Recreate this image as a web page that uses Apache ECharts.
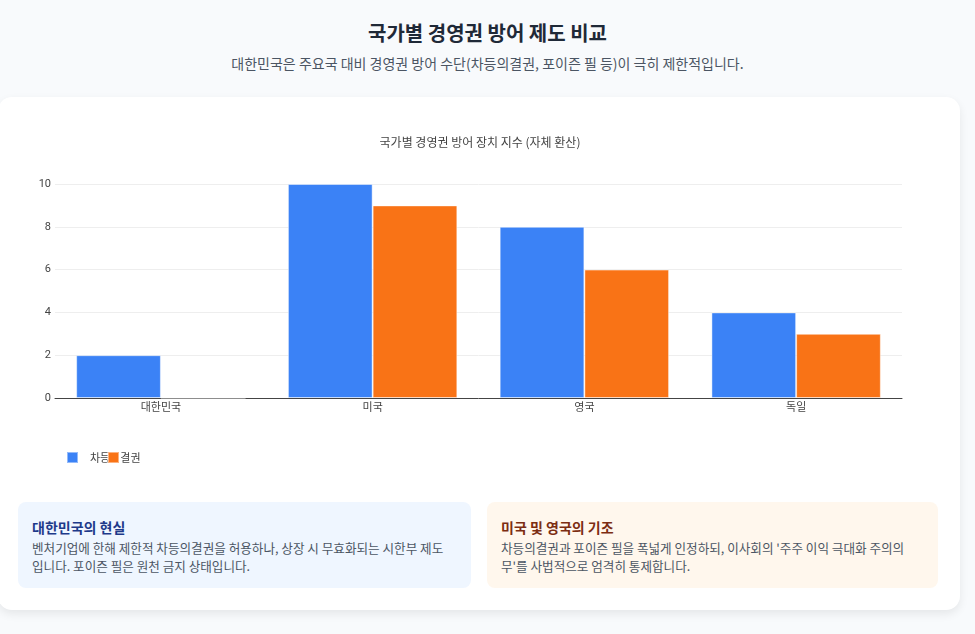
<!DOCTYPE html>
<html><head><meta charset="utf-8">
<script src="https://cdn.jsdelivr.net/npm/echarts@6/dist/echarts.min.js"></script>
<style>
html,body{margin:0;padding:0;background:#f8fafc;font-family:"Noto Sans CJK KR","Noto Sans",sans-serif;}
#wrap{position:relative;width:975px;height:634px;overflow:hidden;}
h1{position:absolute;left:0;width:975px;top:16px;margin:0;text-align:center;font-size:20px;font-weight:700;color:#1f2937;line-height:34px;}
.sub{position:absolute;left:0;width:975px;top:52px;margin:0;text-align:center;font-size:14px;color:#4b5563;line-height:22px;}
#card{position:absolute;left:-2px;top:97px;width:962px;height:513px;background:#fff;border-radius:14px;box-shadow:0 4px 10px rgba(0,0,0,0.08);}
#chart{position:absolute;left:2px;top:0;width:960px;height:395px;}
.box{position:absolute;top:405px;height:86px;border-radius:8px;box-sizing:border-box;padding:13px 14px;}
.box h3{margin:0 0 0 0;font-size:14px;font-weight:700;line-height:24px;}
.box p{margin:0;font-size:12.6px;line-height:18px;color:#4b5563;}
#b1{left:20px;width:453px;background:#eff6ff;padding-right:22px;}
#b1 h3{color:#1e3a8a;}
#b2{left:489px;width:451px;background:#fff7ed;}
#b2 h3{color:#7c2d12;}
</style></head>
<body><div id="wrap">
<h1>국가별 경영권 방어 제도 비교</h1>
<p class="sub">대한민국은 주요국 대비 경영권 방어 수단(차등의결권, 포이즌 필 등)이 극히 제한적입니다.</p>
<div id="card">
<div id="chart"></div>
<div class="box" id="b1"><h3>대한민국의 현실</h3><p>벤처기업에 한해 제한적 차등의결권을 허용하나, 상장 시 무효화되는 시한부 제도입니다. 포이즌 필은 원천 금지 상태입니다.</p></div>
<div class="box" id="b2"><h3>미국 및 영국의 기조</h3><p>차등의결권과 포이즌 필을 폭넓게 인정하되, 이사회의 '주주 이익 극대화 주의의무'를 사법적으로 엄격히 통제합니다.</p></div>
</div>
</div>
<script>
const chartTitle = '국가별 경영권 방어 장치 지수 (자체 환산)';
const categories = ['대한민국', '미국', '영국', '독일'];
const seriesNames = ['차등의결권', '포이즌 필'];
const dualClassValues = [2, 10, 8, 4];
const poisonPillValues = [0, 9, 6, 3];

const font = '"Noto Sans CJK KR","Noto Sans",sans-serif';
const chart = echarts.init(document.getElementById('chart'));
chart.setOption({
  animation: false,
  textStyle: {fontFamily: font},
  title: {text: chartTitle, left: 'center', top: 34,
    textStyle: {fontSize: 12, fontWeight: 'normal', color: '#444', fontFamily: font}},
  legend: [
    {data: [seriesNames[0]], left: 61, top: 349, itemWidth: 11, itemHeight: 11, icon: 'rect',
     textStyle: {fontSize: 11, color: '#444', fontFamily: font, padding: [0,0,0,7]}, z: 1},
    {data: [seriesNames[1]], left: 102, top: 349, itemWidth: 11, itemHeight: 11, icon: 'rect',
     textStyle: {fontSize: 11, color: '#444', fontFamily: font, width: 1, overflow: 'truncate', ellipsis: ''}, z: 5}
  ],
  grid: {left: 55, right: 58, top: 87, height: 214},
  xAxis: {type: 'category', data: categories,
    axisLine: {lineStyle: {color: '#444', width: 1}}, axisTick: {show: false},
    axisLabel: {fontSize: 11, color: '#444', margin: 3, fontFamily: font}},
  yAxis: {type: 'value', min: 0, max: 10, interval: 2,
    splitLine: {lineStyle: {color: '#eeeeee'}}, axisLine: {show: false}, axisTick: {show: false},
    axisLabel: {fontSize: 11, color: '#444', margin: 4, fontFamily: 'Roboto, sans-serif'}},
  series: [
    {name: seriesNames[0], type: 'bar', data: dualClassValues, barCategoryGap: '20%', barGap: '0%',
     itemStyle: {color: '#3b82f6', borderColor: 'rgba(255,255,255,0.45)', borderWidth: 1}},
    {name: seriesNames[1], type: 'bar', data: poisonPillValues,
     itemStyle: {color: '#f97316', borderColor: 'rgba(255,255,255,0.45)', borderWidth: 1}}
  ]
});
</script>
</body></html>
